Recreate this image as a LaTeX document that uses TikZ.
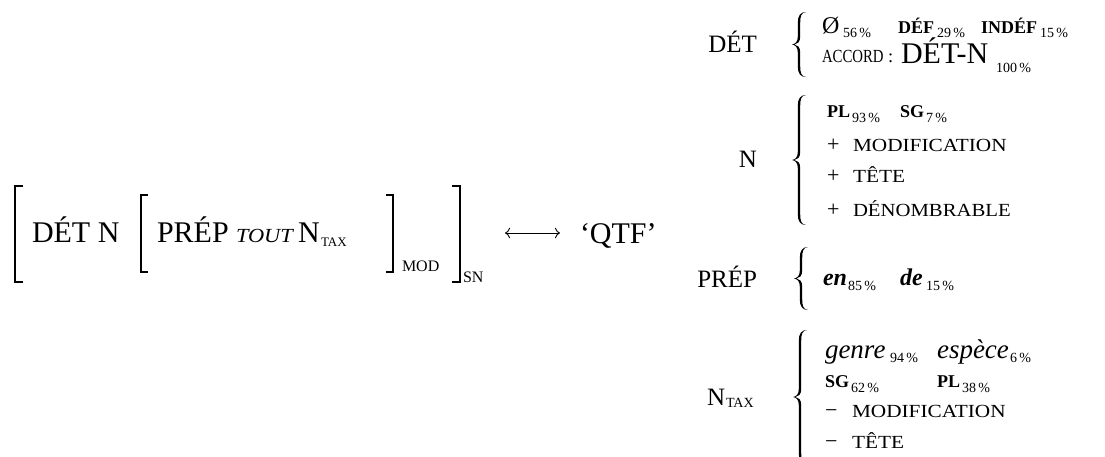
\documentclass[tikz,border=0pt]{standalone}
\usepackage{fontspec}
\setmainfont{Liberation Serif}
\usetikzlibrary{arrows.meta}
\tikzset{
  every node/.style={inner sep=0pt, outer sep=0pt},
  big/.style={font=\fontsize{30}{30}\selectfont, anchor=base west},
  lab/.style={font=\fontsize{25}{25}\selectfont, anchor=base east},
  scx/.style={font=\fontsize{18.5}{18.5}\selectfont, anchor=base west},
  bsc/.style={font=\fontsize{18}{18}\selectfont\bfseries, anchor=base west},
  pct/.style={font=\fontsize{14}{14}\selectfont, anchor=base west},
  itx/.style={font=\fontsize{27}{27}\selectfont\itshape, anchor=base west},
  bitx/.style={font=\fontsize{24}{24}\selectfont\bfseries\itshape, anchor=base west},
  sgn/.style={font=\fontsize{22}{22}\selectfont, anchor=base west},
  sub/.style={font=\fontsize{16}{16}\selectfont, anchor=base west},
  brk/.style={line width=1.8pt, line cap=butt, line join=miter},
}
% curly brace opening to the right: centre x, centre y, half height
\newcommand{\tbrace}[3]{%
  \fill ({#1+7},{#2-#3}) .. controls ({#1+1},{#2-#3}) and ({#1-1.2},{#2-#3+4}) .. ({#1-1.2},{#2-#3+11})
    -- ({#1-1.2},{#2-8}) .. controls ({#1-1.2},{#2-3}) and ({#1-3.5},{#2-0.5}) .. ({#1-7},{#2})
    .. controls ({#1-3.5},{#2+0.5}) and ({#1-1.2},{#2+3}) .. ({#1-1.2},{#2+8})
    -- ({#1-1.2},{#2+#3-11}) .. controls ({#1-1.2},{#2+#3-4}) and ({#1+1},{#2+#3}) .. ({#1+7},{#2+#3})
    .. controls ({#1+2.2},{#2+#3-0.7}) and ({#1+1.2},{#2+#3-4}) .. ({#1+1.2},{#2+#3-11})
    -- ({#1+1.2},{#2+8}) .. controls ({#1+1.2},{#2+2.5}) and ({#1-1.5},{#2+0.4}) .. ({#1-4.5},{#2})
    .. controls ({#1-1.5},{#2-0.4}) and ({#1+1.2},{#2-2.5}) .. ({#1+1.2},{#2-8})
    -- ({#1+1.2},{#2-#3+11}) .. controls ({#1+1.2},{#2-#3+4}) and ({#1+2.2},{#2-#3+0.7}) .. ({#1+7},{#2-#3}) -- cycle;}
\begin{document}
\begin{tikzpicture}[x=1pt,y=-1pt]
\useasboundingbox (0,0) rectangle (1105,456);
% ---------- left formula ----------
\draw[brk] (23,186) -- (15,186) -- (15,282) -- (23,282);
\draw[brk] (148,195) -- (141,195) -- (141,272) -- (148,272);
\draw[brk] (386,195) -- (393,195) -- (393,272) -- (386,272);
\draw[brk] (452,186) -- (460,186) -- (460,282) -- (452,282);
\node[big] (detn) at (32,242) {DÉT N};
\node[big] (prepL) at (157,242) {PRÉP};
\node[anchor=base west, font=\fontsize{20}{20}\selectfont\itshape] (tout) at (236,242) {\scalebox{1.12}[1]{TOUT}};
\node[big] (nL) at (298,242) {N};
\node[anchor=base west, font=\fontsize{13}{13}\selectfont] (taxL) at (321,246) {TAX};
\node[sub] (mod) at (402,271) {MOD};
\node[sub] (sn) at (463,282) {SN};
\coordinate (arrL) at (505,233);
\coordinate (arrR) at (560,233);
\node[big] (qtf) at (580,243) {‘QTF’};
\draw[line width=0.9pt, {Computer Modern Rightarrow[scale=1.4]}-{Computer Modern Rightarrow[scale=1.4]}] (arrL) -- (arrR);
% ---------- right labels ----------
\node[lab] (labD) at (757,52) {DÉT};
\node[lab] (labN) at (757,167) {N};
\node[lab] (labP) at (757,287) {PRÉP};
\node[anchor=base west, font=\fontsize{25}{25}\selectfont] (labT) at (707,405) {N};
\node[anchor=base west, font=\fontsize{14}{14}\selectfont] (labTax) at (726,407) {TAX};
% ---------- braces ----------
\tbrace{799}{44.5}{32.5}
\tbrace{799}{160}{65}
\tbrace{801}{278.5}{31.5}
\tbrace{800}{397}{67}
% ---------- DÉT ----------
\node[anchor=base west, font=\fontsize{24}{24}\selectfont] (zero) at (822,33) {Ø};
\node[pct] (p56) at (843,37) {56\,\%};
\node[bsc] (def) at (898,33) {DÉF};
\node[pct] (p29) at (937,37) {29\,\%};
\node[bsc] (indef) at (981,33) {INDÉF};
\node[pct] (p15a) at (1040,37) {15\,\%};
\node[scx] (accord) at (822,62) {\scalebox{0.8}[1]{ACCORD}};
\node[scx] (colon) at (888,62) {:};
\node[big, text height=20pt] (detN2) at (901,63) {DÉT-N};
\node[pct] (p100) at (996,72) {100\,\%};
% ---------- N ----------
\node[bsc] (pl1) at (827,117) {PL};
\node[pct] (p93) at (852,122) {93\,\%};
\node[bsc] (sg1) at (900,117) {SG};
\node[pct] (p7) at (926,122) {7\,\%};
\node[sgn] (plus1) at (827,151) {+};
\node[scx] (mod1) at (853,151) {\scalebox{1.15}[1]{MODIFICATION}};
\node[sgn] (plus2) at (827,182) {+};
\node[scx] (tete1) at (853,182) {\scalebox{1.15}[1]{TÊTE}};
\node[sgn] (plus3) at (827,216) {+};
\node[scx] (denom) at (853,216) {\scalebox{1.12}[1]{DÉNOMBRABLE}};
% ---------- PRÉP ----------
\node[bitx] (en) at (823,285) {en};
\node[pct] (p85) at (848,290) {85\,\%};
\node[bitx] (de) at (900,285) {de};
\node[pct] (p15b) at (926,290) {15\,\%};
% ---------- N_TAX ----------
\node[itx] (genre) at (825,358) {genre};
\node[pct] (p94) at (890,362) {94\,\%};
\node[itx] (espece) at (937,358) {espèce};
\node[pct] (p6) at (1010,362) {6\,\%};
\node[bsc] (sg2) at (825,387) {SG};
\node[pct] (p62) at (851,392) {62\,\%};
\node[bsc] (pl2) at (937,387) {PL};
\node[pct] (p38) at (962,392) {38\,\%};
\node[sgn] (minus1) at (825,417) {−};
\node[scx] (mod2) at (852,417) {\scalebox{1.15}[1]{MODIFICATION}};
\node[sgn] (minus2) at (825,448) {−};
\node[scx] (tete2) at (852,448) {\scalebox{1.15}[1]{TÊTE}};
\end{tikzpicture}
\end{document}
